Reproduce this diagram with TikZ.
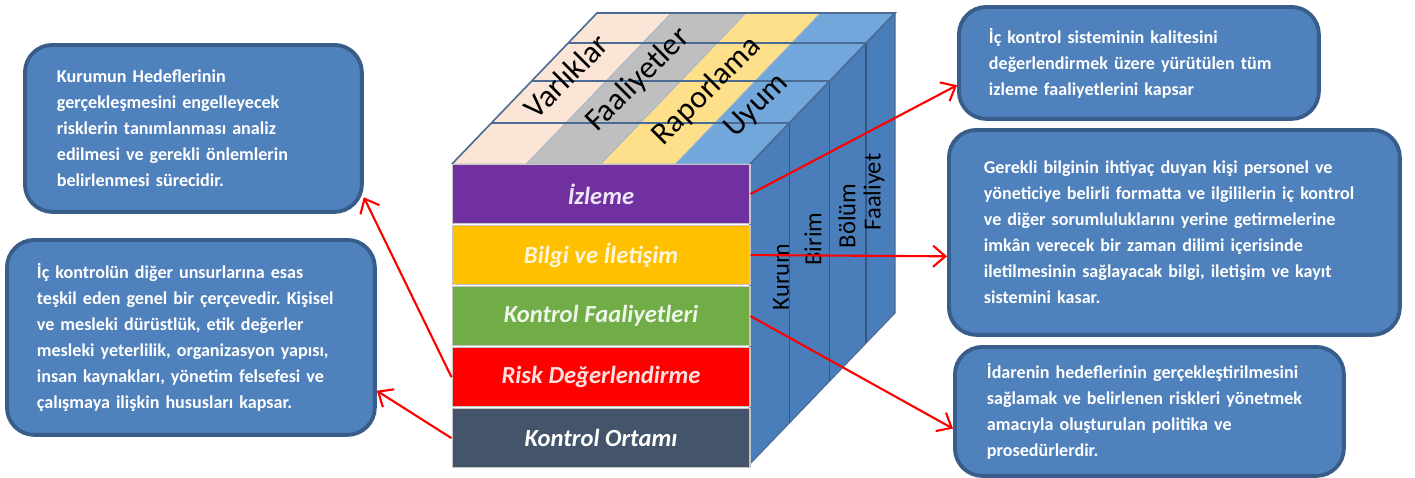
\documentclass[tikz,border=0pt]{standalone}
\usepackage{fontspec}
\setmainfont{Carlito}
\frenchspacing
\usepackage{tikz}
\usetikzlibrary{positioning, arrows.meta, calc}

\definecolor{kutumavi}{HTML}{4F81BD}
\definecolor{kutukenar}{HTML}{385D8A}
\definecolor{mor}{HTML}{7030A0}
\definecolor{sari}{HTML}{FFC000}
\definecolor{yesil}{HTML}{70AD47}
\definecolor{kirmizi}{HTML}{FF0000}
\definecolor{lacivert}{HTML}{44546A}
\definecolor{ten}{HTML}{FBE5D6}
\definecolor{gri}{HTML}{BFBFBF}
\definecolor{acksari}{HTML}{FFE08A}
\definecolor{acikmavi}{HTML}{72A7DC}
\definecolor{yanmavi}{HTML}{4A7EBB}
\definecolor{izgara}{HTML}{4A6B94}

\begin{document}
\begin{tikzpicture}[
        x=0.02cm, y=-0.02cm,
        katman/.style={rectangle, draw=gray!45, line width=0.6pt, minimum width=5.96cm, minimum height=1.18cm, font=\fontsize{14}{16}\selectfont\bfseries\itshape},
        kutu/.style={rectangle, rounded corners=0.55cm, fill=kutumavi, draw=kutukenar, line width=2.2pt, text=white, anchor=north west, align=left, font=\fontsize{10.3}{14.8}\selectfont\bfseries},
        ok/.style={-{Straight Barb[length=7pt,width=12pt]}, red, line width=1.2pt},
        yan/.style={rotate=90, font=\fontsize{14}{16}\selectfont},
        ust/.style={rotate=45, inner sep=0pt, font=\fontsize{18}{20}\selectfont}
    ]
    \useasboundingbox (0,0) rectangle (1415,477);

    % cube corners
    \coordinate (fsol) at (452,164);
    \coordinate (fsag) at (750,164);
    \coordinate (altsag) at (750,464);
    \coordinate (derin) at (145,-151);

    % top face columns
    \foreach \renk/\i in {ten/0, gri/1, acksari/2, acikmavi/3}
        \filldraw[fill=\renk, draw=izgara!50, line width=0.4pt] ($(fsol)+(74.5*\i,0)$) -- ($(fsol)+(74.5*\i+74.5,0)$) -- ($(fsol)+(74.5*\i+74.5,0)+(derin)$) -- ($(fsol)+(74.5*\i,0)+(derin)$) -- cycle;

    % side face
    \filldraw[fill=yanmavi, draw=izgara, line width=0.6pt] (fsag) -- ($(fsag)+(derin)$) -- ($(altsag)+(derin)$) -- (altsag) -- cycle;
    \foreach \t in {0.27, 0.55, 0.8} {
        \draw[izgara, line width=0.9pt] ($(fsol)+\t*(derin)$) -- ($(fsag)+\t*(derin)$);
        \draw[yanmavi!70!black, line width=0.6pt] ($(fsag)+\t*(derin)$) -- ($(altsag)+\t*(derin)$);
    }
    \draw[izgara, line width=0.9pt] (fsol) -- ($(fsol)+(derin)$) -- ($(fsag)+(derin)$) -- (fsag);

    \node[ust] (varlik) at (566,76) {Varlıklar};
    \node[ust] (faaliyetler) at (638,80) {Faaliyetler};
    \node[ust] (raporlama) at (707,91) {Raporlama};
    \node[ust] (uyum) at (757,106) {Uyum};

    \node[yan] (kurum) at (781,277) {Kurum};
    \node[yan] (birim) at (813,239) {Birim};
    \node[yan] (bolum) at (847,216) {Bölüm};
    \node[yan] (faaliyet) at (874,192) {Faaliyet};

    % front layers
    \node[katman, fill=mor, text=mor!12!white] (izleme) at (601,194) {İzleme};
    \node[katman, fill=sari, text=sari!15!white, below=0.02cm of izleme] (bilgi) {Bilgi ve İletişim};
    \node[katman, fill=yesil, text=yesil!12!white, below=0.02cm of bilgi] (faal) {Kontrol Faaliyetleri};
    \node[katman, fill=kirmizi, text=kirmizi!12!white, below=0.02cm of faal] (risk) {Risk Değerlendirme};
    \node[katman, fill=lacivert, text=white, below=0.02cm of risk] (ortam) {Kontrol Ortamı};

    % explanation boxes
    \node[kutu, text width=5.46cm, inner xsep=0.64cm, minimum height=3.34cm] (riskbox) at (23,43)
        {Kurumun Hedeflerinin\\ gerçekleşmesini engelleyecek\\ risklerin tanımlanması analiz\\ edilmesi ve gerekli önlemlerin\\ belirlenmesi sürecidir.};
    \node[kutu, text width=6.16cm, inner xsep=0.6cm, minimum height=3.9cm] (ortambox) at (5,238)
        {İç kontrolün diğer unsurlarına esas\\ teşkil eden genel bir çerçevedir. Kişisel\\ ve mesleki dürüstlük, etik değerler\\ mesleki yeterlilik, organizasyon yapısı,\\ insan kaynakları, yönetim felsefesi ve\\ çalışmaya ilişkin hususları kapsar.};
    \node[kutu, text width=6.0cm, inner xsep=0.6cm, minimum height=2.24cm] (izlemebox) at (957,5)
        {İç kontrol sisteminin kalitesini\\ değerlendirmek üzere yürütülen tüm\\ izleme faaliyetlerini kapsar};
    \node[kutu, text width=7.62cm, inner xsep=0.7cm, minimum height=4.1cm] (bilgibox) at (947,128)
        {Gerekli bilginin ihtiyaç duyan kişi personel ve\\ yöneticiye belirli formatta ve ilgililerin iç kontrol\\ ve diğer sorumluluklarını yerine getirmelerine\\ imkân verecek bir zaman dilimi içerisinde\\ iletilmesinin sağlayacak bilgi, iletişim ve kayıt\\ sistemini kasar.};
    \node[kutu, text width=6.5cm, inner xsep=0.64cm, minimum height=2.58cm] (faalbox) at (953,345)
        {İdarenin hedeflerinin gerçekleştirilmesini\\ sağlamak ve belirlenen riskleri yönetmek\\ amacıyla oluşturulan politika ve\\ prosedürlerdir.};

    % arrows
    \draw[ok] (izleme.east) -- (izlemebox.187);
    \draw[ok] (bilgi.east) -- (bilgibox.186);
    \draw[ok] (faal.east) -- (faalbox.185);
    \draw[ok] (risk.west) -- (riskbox.-22);
    \draw[ok] (ortam.west) -- (ortambox.-16);
\end{tikzpicture}
\end{document}
